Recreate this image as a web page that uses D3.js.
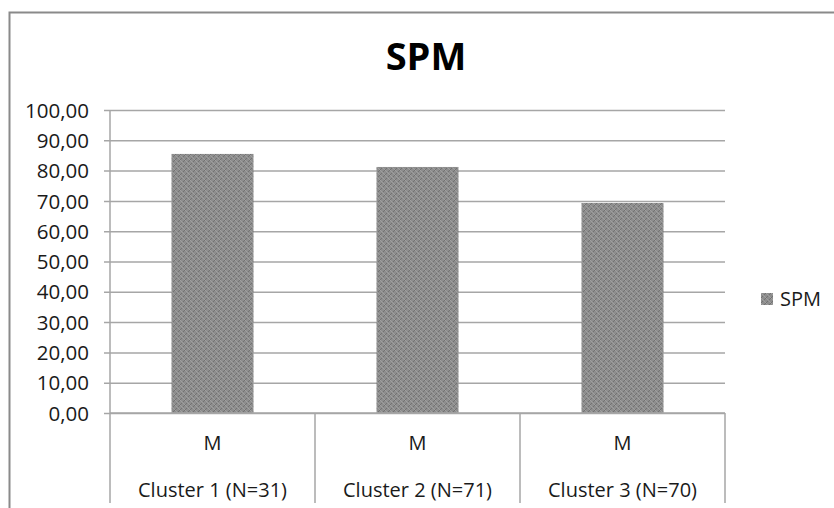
<!DOCTYPE html>
<html>
<head>
<meta charset="utf-8">
<script src="https://cdn.jsdelivr.net/npm/d3@7"></script>
<style>
  body { margin: 0; background: #fff; }
  svg text { font-family: "Open Sans", "Noto Sans", sans-serif; fill: #1a1a1a; }
</style>
</head>
<body>
<div id="spm_canvas"></div>
<script>
const clusters = ['Cluster 1 (N=31)', 'Cluster 2 (N=71)', 'Cluster 3 (N=70)'];
const subLabels = ['M', 'M', 'M'];
const spmValues = [85.5, 81.2, 69.3];
const yTicks = [0, 10, 20, 30, 40, 50, 60, 70, 80, 90, 100];

const data = clusters.map((c, i) => ({cat: c, sub: subLabels[i], value: spmValues[i]}));

const width = 834, height = 508;
const margin = {top: 110, left: 110, right: 109, bottom: 95};

const svg = d3.select('#spm_canvas').append('svg')
  .attr('width', width).attr('height', height);

// hatched fill like the original
const defs = svg.append('defs');
const pat = defs.append('pattern').attr('id', 'hatch')
  .attr('patternUnits', 'userSpaceOnUse').attr('width', 5).attr('height', 5);
pat.append('rect').attr('width', 5).attr('height', 5).attr('fill', '#8d8d8d');
pat.append('path').attr('d', 'M0,5 L5,0 M-1,1 L1,-1 M4,6 L6,4')
  .attr('stroke', '#727272').attr('stroke-width', 1);
pat.append('path').attr('d', 'M0,0 L5,5 M-1,4 L1,6 M4,-1 L6,1')
  .attr('stroke', '#a4a4a4').attr('stroke-width', 0.8);

// outer frame
svg.append('rect').attr('x', 9.5).attr('y', 12.5)
  .attr('width', 840).attr('height', 520)
  .attr('fill', 'none').attr('stroke', '#8a8a8a').attr('stroke-width', 2);

svg.append('text').attr('x', 426).attr('y', 70)
  .attr('text-anchor', 'middle')
  .style('font-size', '38px').style('font-weight', 'bold').style('fill', '#000')
  .text('SPM');

const xScale = d3.scaleBand().domain(clusters)
  .range([margin.left, width - margin.right]).paddingInner(0).paddingOuter(0);
const yScale = d3.scaleLinear().domain([0, 100])
  .range([height - margin.bottom, margin.top]);

// gridlines + y ticks
const yAxisG = svg.append('g')
  .attr('transform', `translate(${margin.left},0)`)
  .call(d3.axisLeft(yScale).tickValues(yTicks)
    .tickSize(-(width - margin.right - margin.left))
    .tickSizeOuter(0)
    .tickFormat(d => d.toFixed(2).replace('.', ',')));
yAxisG.select('.domain').remove();
yAxisG.selectAll('.tick line').attr('stroke', '#a6a6a6').attr('stroke-width', 1.5)
  .attr('x1', -6);
yAxisG.selectAll('.tick text').attr('x', -21).attr('dy', '0.35em')
  .style('font-size', '20.5px').style('fill', '#1a1a1a');

// y axis line
svg.append('line')
  .attr('x1', margin.left).attr('x2', margin.left)
  .attr('y1', yScale(100)).attr('y2', yScale(0))
  .attr('stroke', '#a6a6a6').attr('stroke-width', 1.5);

// bars
svg.append('g').selectAll('rect').data(data).join('rect')
  .attr('x', d => xScale(d.cat) + xScale.bandwidth() * 0.3)
  .attr('width', xScale.bandwidth() * 0.4)
  .attr('y', d => yScale(d.value))
  .attr('height', d => yScale(0) - yScale(d.value))
  .attr('fill', 'url(#hatch)');

// category area
const catBottom = height - 5;
svg.append('line')
  .attr('x1', margin.left).attr('x2', width - margin.right)
  .attr('y1', yScale(0)).attr('y2', yScale(0))
  .attr('stroke', '#a6a6a6').attr('stroke-width', 1.5);
const dividers = clusters.map(c => xScale(c)).concat([xScale.range()[1]]);
svg.append('g').selectAll('line').data(dividers).join('line')
  .attr('x1', d => d).attr('x2', d => d)
  .attr('y1', yScale(0)).attr('y2', catBottom)
  .attr('stroke', '#a6a6a6').attr('stroke-width', 1.5);

const catG = svg.append('g');
catG.selectAll('text.sub').data(data).join('text').attr('class', 'sub')
  .attr('x', d => xScale(d.cat) + xScale.bandwidth() / 2)
  .attr('y', 450).attr('text-anchor', 'middle')
  .style('font-size', '20px')
  .text(d => d.sub);
catG.selectAll('text.cat').data(data).join('text').attr('class', 'cat')
  .attr('x', d => xScale(d.cat) + xScale.bandwidth() / 2)
  .attr('y', 497).attr('text-anchor', 'middle')
  .style('font-size', '20px')
  .text(d => d.cat);

// legend
const legend = svg.append('g').attr('transform', 'translate(761,293)');
legend.append('rect').attr('width', 12).attr('height', 12).attr('fill', 'url(#hatch)');
legend.append('text').attr('x', 19).attr('y', 12.5)
  .style('font-size', '20px').text('SPM');
</script>
</body>
</html>
